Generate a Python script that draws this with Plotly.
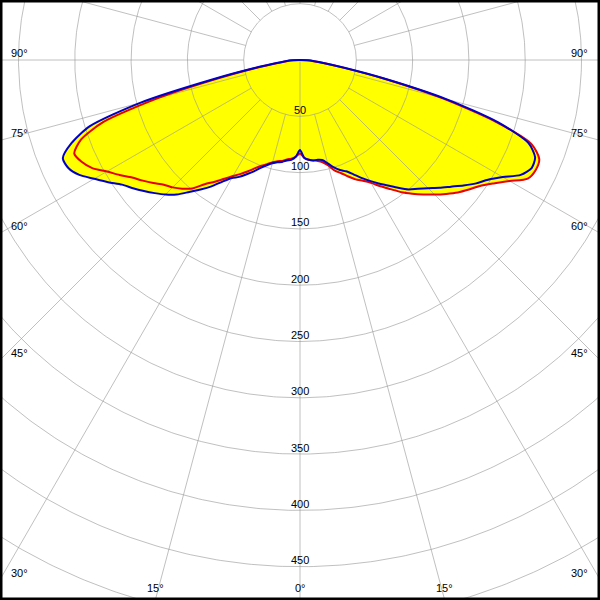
import numpy as np
import plotly.graph_objects as go

# ---- data (cd/klm), gamma angles in degrees (0 = straight down) ----
gamma = [0, 2.5, 5, 7.5, 10, 12.5, 15, 17.5, 20, 22.5, 25, 27.5, 30, 32.5, 35, 37.5,
         40, 42.5, 45, 47.5, 50, 52.5, 55, 57.5, 60, 62.5, 65, 67.5, 70, 72.5, 75,
         77.5, 80, 82.5, 85, 87.5, 90]

blue_left = [80, 86, 89, 90, 92, 93, 95, 98, 102, 107, 112, 117, 121, 128, 137, 145,
             153, 162, 169, 175, 181, 187, 193, 202, 211, 221, 227, 228, 216, 196, 147,
             79, 40, 21, 13, 7, 0]
blue_right = [80, 87, 89, 90, 90, 91, 95, 100, 104, 107, 112, 118, 124, 130, 136, 143,
              150, 155, 161, 168, 175, 183, 191, 198, 208, 221, 227, 226, 216, 185, 135,
              78, 40, 22, 13, 7, 0]
red_left = [83, 86, 88, 89, 91, 92, 94, 97, 100, 104, 109, 114, 119, 125, 132, 139,
            149, 155, 160, 164, 170, 176, 182, 190, 198, 208, 214, 217, 207, 183, 130,
            72, 38, 20, 12, 6, 0]
red_right = [83, 87, 89, 90, 91, 93, 97, 103, 107, 112, 117, 121, 126, 133, 140, 148,
             155, 162, 169, 176, 183, 189, 195, 204, 215, 228, 231, 230, 219, 182, 130,
             76, 39, 21, 12, 6, 0]

ring_values = [50, 100, 150, 200, 250, 300, 350, 400, 450, 500, 550]
ring_labels = ["50", "100", "150", "200", "250", "300", "350", "400", "450"]
spoke_angles = list(range(0, 360, 15))
side_angle_labels = [90, 75, 60, 45, 30]
bottom_angle_labels = [15, 0, 15]
bottom_angle_values = [-15, 0, 15]

# ---- layout constants ----
W = H = 600
PX = 1.126          # pixels per cd/klm
CX, CY = 300, 60    # pole position in pixels
x_range = [-CX / PX, (W - CX) / PX]
y_range = [-(H - CY) / PX, CY / PX]

GRID = "rgba(150,150,150,0.6)"
YELLOW = "#ffff00"
BLUE = "#0000c8"
RED = "#e60000"
FONT = dict(family="Liberation Sans, Arial, sans-serif", size=11, color="black")
SMOOTH = dict(shape="spline", smoothing=0.7)


def outline(left, right):
    g = np.radians(gamma)
    l = np.array(left, float)
    r = np.array(right, float)
    xl, yl = -l * np.sin(g), -l * np.cos(g)
    xr, yr = r * np.sin(g), -r * np.cos(g)
    return np.concatenate([xl[::-1], xr[1:]]), np.concatenate([yl[::-1], yr[1:]])


bx, by = outline(blue_left, blue_right)
rx, ry = outline(red_left, red_right)

fig = go.Figure()

# fills (union of both planes)
for x, y in [(rx, ry), (bx, by)]:
    fig.add_trace(go.Scatter(x=x, y=y, mode="lines", fill="toself", fillcolor=YELLOW,
                             line=dict(width=0, color=YELLOW, **SMOOTH), hoverinfo="skip",
                             showlegend=False))

# grid circles
t = np.linspace(0, 2 * np.pi, 721)
gx, gy = [], []
for rv in ring_values:
    gx += list(rv * np.cos(t)) + [None]
    gy += list(rv * np.sin(t)) + [None]
fig.add_trace(go.Scatter(x=gx, y=gy, mode="lines", line=dict(color=GRID, width=1),
                         hoverinfo="skip", showlegend=False))

# spokes
sx, sy = [], []
for a in spoke_angles:
    ar = np.radians(a)
    r0 = 0 if a == 0 else 50
    r1 = 800
    sx += [r0 * np.sin(ar), r1 * np.sin(ar), None]
    sy += [-r0 * np.cos(ar), -r1 * np.cos(ar), None]
fig.add_trace(go.Scatter(x=sx, y=sy, mode="lines", line=dict(color=GRID, width=1),
                         hoverinfo="skip", showlegend=False))

# outlines
fig.add_trace(go.Scatter(x=rx, y=ry, mode="lines", line=dict(color=RED, width=2, **SMOOTH),
                         hoverinfo="skip", showlegend=False))
fig.add_trace(go.Scatter(x=bx, y=by, mode="lines", line=dict(color=BLUE, width=2, **SMOOTH),
                         hoverinfo="skip", showlegend=False))

annotations = []
# ring labels along the 0 deg line
for lab in ring_labels:
    annotations.append(dict(x=0, y=-float(lab), text=lab, showarrow=False, font=FONT,
                            xanchor="center", yanchor="middle", yshift=6.5))

# side angle labels
x_left = x_range[0] + 9 / PX
x_right = x_range[1] - 10 / PX
for a in side_angle_labels:
    ar = np.radians(a)
    yl = -abs(x_range[0]) / np.tan(ar) if a != 90 else 0.0
    annotations.append(dict(x=x_left, y=yl, text=f"{a}°", showarrow=False, font=FONT,
                            xanchor="left", yanchor="middle", yshift=7))
    annotations.append(dict(x=x_right, y=yl, text=f"{a}°", showarrow=False, font=FONT,
                            xanchor="right", yanchor="middle", yshift=7))

# bottom angle labels
for lab, a in zip(bottom_angle_labels, bottom_angle_values):
    xb = abs(y_range[0]) * np.tan(np.radians(a))
    annotations.append(dict(x=xb, y=y_range[0], text=f"{lab}°", showarrow=False,
                            font=FONT, xanchor="center", yanchor="middle", yshift=12))

fig.update_layout(
    width=W, height=H, margin=dict(l=0, r=0, t=0, b=0),
    paper_bgcolor="white", plot_bgcolor="white",
    xaxis=dict(range=x_range, visible=False, fixedrange=True),
    yaxis=dict(range=y_range, visible=False, fixedrange=True),
    annotations=annotations,
    shapes=[dict(type="rect", xref="paper", yref="paper", x0=0, y0=0, x1=1, y1=1,
                 line=dict(color="black", width=5), layer="above")],
    showlegend=False,
)

fig.write_html("out.html", config={"displayModeBar": False},
               post_script="document.body.style.margin='0px';document.body.style.overflow='hidden';")
